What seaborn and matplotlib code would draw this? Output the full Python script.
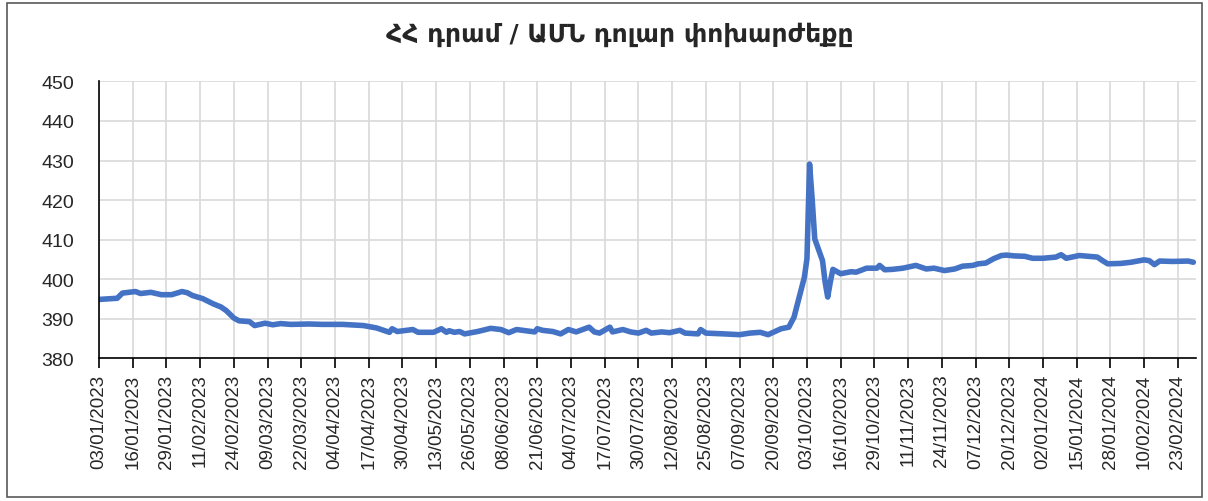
import pandas as pd
import numpy as np
import matplotlib
matplotlib.use("Agg")
import matplotlib.pyplot as plt
import matplotlib.dates as mdates
from matplotlib.patches import Rectangle
import seaborn as sns

# AMD / USD exchange rate
dates = [
    "2023-01-03", "2023-01-10", "2023-01-12", "2023-01-17", "2023-01-19", "2023-01-23",
    "2023-01-27", "2023-01-31", "2023-02-04", "2023-02-06", "2023-02-08", "2023-02-12",
    "2023-02-16", "2023-02-19", "2023-02-21", "2023-02-24", "2023-02-26", "2023-03-02",
    "2023-03-04", "2023-03-08", "2023-03-11", "2023-03-14", "2023-03-18", "2023-03-25",
    "2023-03-30", "2023-04-07", "2023-04-15", "2023-04-20", "2023-04-25", "2023-04-26",
    "2023-04-28", "2023-05-04", "2023-05-06", "2023-05-12", "2023-05-15", "2023-05-17",
    "2023-05-18", "2023-05-20", "2023-05-22", "2023-05-24", "2023-05-29", "2023-06-03",
    "2023-06-07", "2023-06-10", "2023-06-13", "2023-06-20", "2023-06-21", "2023-06-23",
    "2023-06-27", "2023-06-30", "2023-07-03", "2023-07-06", "2023-07-11", "2023-07-13",
    "2023-07-15", "2023-07-19", "2023-07-20", "2023-07-24", "2023-07-27", "2023-07-30",
    "2023-08-02", "2023-08-04", "2023-08-08", "2023-08-11", "2023-08-15", "2023-08-17",
    "2023-08-22", "2023-08-23", "2023-08-25", "2023-09-01", "2023-09-07", "2023-09-11",
    "2023-09-15", "2023-09-18", "2023-09-20", "2023-09-23", "2023-09-26", "2023-09-28",
    "2023-09-30", "2023-10-02", "2023-10-03", "2023-10-04", "2023-10-05", "2023-10-06",
    "2023-10-09", "2023-10-10", "2023-10-11", "2023-10-12", "2023-10-13", "2023-10-16",
    "2023-10-20", "2023-10-22", "2023-10-26", "2023-10-30", "2023-10-31", "2023-11-02",
    "2023-11-05", "2023-11-09", "2023-11-14", "2023-11-18", "2023-11-21", "2023-11-25",
    "2023-11-29", "2023-12-02", "2023-12-06", "2023-12-08", "2023-12-11", "2023-12-14",
    "2023-12-17", "2023-12-19", "2023-12-22", "2023-12-26", "2023-12-29", "2024-01-02",
    "2024-01-07", "2024-01-09", "2024-01-11", "2024-01-16", "2024-01-23", "2024-01-25",
    "2024-01-27", "2024-02-01", "2024-02-05", "2024-02-10", "2024-02-12", "2024-02-14",
    "2024-02-16", "2024-02-21", "2024-02-27", "2024-02-29",
]
rates = [
    394.9, 395.2, 396.5, 396.9, 396.4, 396.7,
    396.1, 396.1, 396.9, 396.6, 395.9, 395.1,
    393.8, 393.0, 392.1, 390.2, 389.5, 389.3,
    388.3, 388.9, 388.5, 388.8, 388.6, 388.7,
    388.6, 388.6, 388.3, 387.7, 386.6, 387.5,
    386.8, 387.3, 386.6, 386.6, 387.5, 386.6,
    387.0, 386.6, 386.8, 386.2, 386.8, 387.6,
    387.3, 386.5, 387.3, 386.7, 387.5, 387.1,
    386.8, 386.2, 387.3, 386.7, 387.9, 386.7,
    386.4, 387.9, 386.7, 387.3, 386.7, 386.4,
    387.1, 386.4, 386.7, 386.5, 387.1, 386.4,
    386.2, 387.3, 386.4, 386.2, 386.0, 386.4,
    386.6, 386.0, 386.6, 387.5, 387.9, 390.4,
    395.5, 400.5, 405.2, 429.1, 420.3, 410.2,
    404.7, 399.3, 395.5, 399.3, 402.5, 401.4,
    401.9, 401.8, 402.8, 402.8, 403.5, 402.4,
    402.5, 402.8, 403.5, 402.6, 402.8, 402.2,
    402.6, 403.3, 403.5, 403.9, 404.1, 405.2,
    406.0, 406.1, 405.9, 405.8, 405.3, 405.3,
    405.6, 406.2, 405.3, 406.0, 405.6, 404.7,
    403.9, 404.0, 404.3, 404.9, 404.7, 403.7,
    404.6, 404.5, 404.6, 404.3,
]

title = "ՀՀ դրամ / ԱՄՆ դոլար փոխարժեքը"
tick_dates = pd.date_range("2023-01-03", periods=33, freq="13D")
y_ticks = [380, 390, 400, 410, 420, 430, 440, 450]

df = pd.DataFrame({"date": pd.to_datetime(dates), "rate": rates})

sns.set_style("white")
plt.rcParams["font.family"] = ["Liberation Sans", "DejaVu Sans"]

fig = plt.figure(figsize=(12.08, 5.02), dpi=100)
ax = fig.add_axes([0.082, 0.284, 0.908, 0.552])

sns.lineplot(data=df, x="date", y="rate", ax=ax, color="#4472C4",
             linewidth=4, solid_capstyle="round", solid_joinstyle="round")

ax.set_xlim(pd.Timestamp("2023-01-03"), pd.Timestamp("2024-03-01"))
ax.set_ylim(380, 450)
ax.set_yticks(y_ticks)
ax.set_xticks(tick_dates)
ax.xaxis.set_major_formatter(mdates.DateFormatter("%d/%m/%Y"))
ax.tick_params(axis="x", rotation=90, labelsize=13.5, length=7, width=1.2,
               color="black", direction="out", bottom=True, pad=4)
ax.tick_params(axis="y", labelsize=14, length=0, pad=18)

ax.grid(True, color="#D9D9D9", linewidth=1.2)
ax.set_axisbelow(True)
for s in ["top", "right"]:
    ax.spines[s].set_visible(False)
for s in ["left", "bottom"]:
    ax.spines[s].set_color("black")
    ax.spines[s].set_linewidth(1.2)
ax.set_xlabel("")
ax.set_ylabel("")

fig.text(0.513, 0.93, title, ha="center", va="center", fontsize=18,
         fontweight="bold", family=["DejaVu Sans"])

fig.patches.append(Rectangle((0.006, 0.008), 0.989, 0.985, transform=fig.transFigure,
                             fill=False, edgecolor="#595959", linewidth=1.2))

fig.savefig("out.png", dpi=100)
